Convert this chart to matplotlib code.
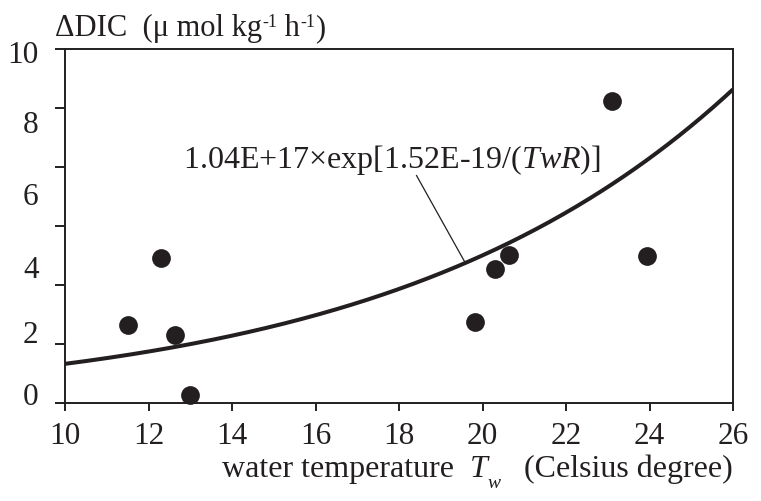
import numpy as np
import matplotlib
matplotlib.use("Agg")
import matplotlib.pyplot as plt

# ---- data ----
water_temp = [11.51, 12.29, 12.63, 12.99, 19.82, 20.31, 20.63, 23.11, 23.94]
delta_dic = [2.65, 4.92, 2.32, 0.28, 2.74, 4.54, 5.03, 10.23, 4.99]

# fitted Arrhenius-type curve parameters
A_coef = 1.04e17
E_act = 1.52e-19
K_B = 1.38e-23

x_ticks = [10, 12, 14, 16, 18, 20, 22, 24, 26]
y_tick_marks = [0, 2, 4, 6, 8, 10, 12]
y_label_pos = [0.34, 2.45, 4.65, 7.12, 9.57, 11.94]
y_label_text = ["0", "2", "4", "6", "8", "10"]

ink = "#231f20"
plt.rcParams["font.family"] = ["Liberation Serif", "DejaVu Serif"]
plt.rcParams["mathtext.fontset"] = "custom"
plt.rcParams["mathtext.rm"] = "Liberation Serif"
plt.rcParams["mathtext.it"] = "Liberation Serif:italic"

W, H = 761, 502
fig = plt.figure(figsize=(W / 100, H / 100), dpi=100)
ax = fig.add_axes([65 / W, 1 - 404 / H, 668 / W, 354 / H])

# curve
tw = np.linspace(10, 26, 300)
curve = A_coef * np.exp(-E_act / (K_B * (tw + 273.15)))
ax.plot(tw, curve, color=ink, lw=2.9, solid_capstyle="butt", zorder=3)

# points
ax.plot(water_temp, delta_dic, "o", color=ink, ms=13.5, mec="none", zorder=4,
        clip_on=False)

ax.set_xlim(10, 26)
ax.set_ylim(0, 12)

ax.set_xticks(x_ticks)
ax.set_xticklabels([str(v) for v in x_ticks], fontsize=22.5)
ax.tick_params(axis="x", direction="out", length=6, width=1.4, color=ink,
               pad=7, labelcolor=ink)

ax.set_yticks(y_label_pos)
ax.set_yticklabels(y_label_text, fontsize=22.5)
ax.set_yticks(y_tick_marks, minor=True)
ax.tick_params(axis="y", which="major", length=0, pad=19, labelcolor=ink)
ax.tick_params(axis="y", which="minor", direction="out", length=7, width=1.4,
               color=ink)

for s in ax.spines.values():
    s.set_linewidth(1.4)
    s.set_color(ink)

# formula label with leader line
ax.text(12.83, 7.99, r"1.04E+17×exp[1.52E-19/($TwR$)]", fontsize=23,
        color=ink, ha="left", va="baseline")
ax.plot([18.42, 19.58], [7.71, 4.77], color=ink, lw=0.9)

renderer = fig.canvas.get_renderer()


def place_run(x0, y_base, pieces):
    """Place text pieces one after another; pieces: (text, size, dy_px, style)."""
    x = x0
    for txt, size, dy, style in pieces:
        t = fig.text(x / W, 1 - (y_base + dy) / H, txt, fontsize=size,
                     style=style, color=ink, ha="left", va="baseline")
        bb = t.get_window_extent(renderer)
        x += bb.width
    return x


def run_width(pieces):
    tot = 0
    for txt, size, dy, style in pieces:
        t = fig.text(0, 0, txt, fontsize=size, style=style)
        tot += t.get_window_extent(renderer).width
        t.remove()
    return tot


xlabel_pieces = [
    ("water temperature  ", 23, 0, "normal"),
    ("T", 23, 0, "italic"),
    ("w", 14, 11, "italic"),
    ("   (Celsius degree)", 23, 0, "normal"),
]
wx = run_width(xlabel_pieces)
place_run(733 - wx, 477, xlabel_pieces)

ylabel_pieces = [
    ("ΔDIC  (μ mol kg", 22, 0, "normal"),
    ("-1", 13, -9, "normal"),
    (" h", 22, 0, "normal"),
    ("-1", 13, -9, "normal"),
    (")", 22, 0, "normal"),
]
place_run(55, 36, ylabel_pieces)

fig.savefig("out.png", dpi=100)
